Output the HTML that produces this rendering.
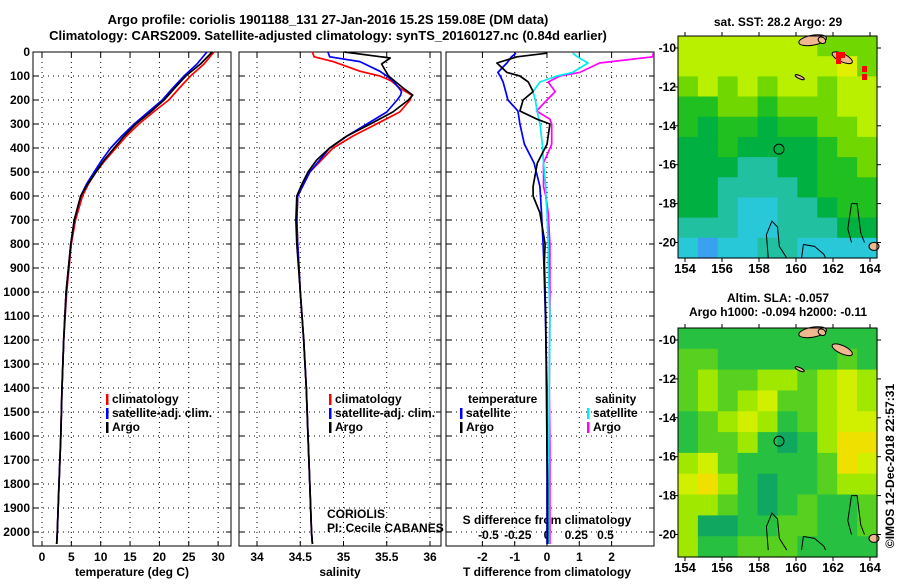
<!DOCTYPE html>
<html><head><meta charset="utf-8"><style>
body{margin:0;background:#fff}
svg text{font-family:"Liberation Sans",sans-serif;font-weight:bold;fill:#000}
</style></head><body>
<svg id="c" width="900" height="580" viewBox="0 0 900 580" xmlns="http://www.w3.org/2000/svg">
<rect width="900" height="580" fill="#fff"/>
<text x="328" y="24" font-size="13" text-anchor="middle">Argo profile: coriolis 1901188_131 27-Jan-2016 15.2S 159.08E (DM data)</text>
<text x="328" y="40" font-size="13" text-anchor="middle">Climatology: CARS2009. Satellite-adjusted climatology: synTS_20160127.nc (0.84d earlier)</text>
<g id="g"></g>
</svg>
<script>
// ---- data ----
const tDepth = [0,50,100,150,200,250,300,350,400,450,500,550,600,700,800,1000,1200,1400,1600,1800,2000,2050];
const tArgo  = [29.0,27.0,24.5,22.6,20.8,18.5,16.0,14.0,12.3,10.6,9.2,7.8,6.6,5.5,4.9,4.1,3.7,3.4,3.2,2.9,2.6,2.5];
const tClim  = [29.3,27.6,25.3,23.4,21.6,19.0,16.5,14.4,12.6,10.8,9.2,7.9,6.9,5.7,5.0,4.2,3.7,3.4,3.2,2.9,2.6,2.5];
const tSat   = [28.1,26.4,24.2,22.3,20.5,18.1,15.7,13.6,11.7,10.2,8.9,7.6,6.6,5.5,4.9,4.1,3.7,3.4,3.2,2.9,2.6,2.5];
const sArgoDepth = [0,25,50,100,150,180,200,250,300,350,400,450,500,550,600,700,800,1000,1200,1400,1600,1800,2000,2050];
const sArgo = [35.01,35.54,35.44,35.52,35.69,35.80,35.75,35.57,35.31,35.04,34.84,34.69,34.59,34.52,34.46,34.45,34.46,34.50,34.54,34.57,34.59,34.61,34.63,34.64];
const sDepth = [0,20,40,80,100,120,150,165,180,200,250,300,350,400,500,600,700,800,1000,1200,1400,1600,1800,2000,2050];
const sClim = [34.64,34.66,34.88,35.19,35.42,35.55,35.65,35.72,35.79,35.77,35.65,35.38,35.11,34.88,34.61,34.47,34.46,34.47,34.50,34.54,34.57,34.59,34.61,34.63,34.64];
const sSat  = [34.82,34.84,35.19,35.42,35.50,35.57,35.64,35.67,35.66,35.62,35.50,35.27,35.04,34.84,34.61,34.47,34.46,34.47,34.50,34.54,34.57,34.59,34.61,34.63,34.64];
const dDepth = [5,20,46,85,100,125,165,200,246,280,300,384,463,560,600,670,800,875,1100,1400,1650,1800,2050];
const dtArgo = [0,-0.93,-1.55,-1.24,-0.84,-0.58,-0.43,-0.74,-0.84,-0.31,0.09,0,-0.3,-0.43,-0.43,-0.22,-0.06,-0.08,-0.04,-0.02,0,0.02,0.02];
const dtSat  = [-0.96,-1.1,-1.24,-1.52,-1.45,-1.36,-1.28,-1.21,-0.9,-0.86,-0.84,-0.7,-0.4,-0.22,-0.2,-0.17,-0.12,-0.1,-0.05,0,0,0,0];
const dsSat  = [0.22,0.26,0.35,0.22,0.085,-0.06,-0.12,-0.1,-0.085,-0.07,-0.06,-0.04,-0.03,-0.01,-0.01,0,0.01,0.01,0.025,0.02,0.015,0.015,0.015];
const dsArgo = [0.92,0.92,0.45,0.28,0.11,0.01,0.07,0,-0.09,0.025,0.04,0.04,-0.03,-0.03,-0.01,0.01,0.025,0.025,0.025,0.02,0.025,0.025,0.025];
const depthTicks = [0,100,200,300,400,500,600,700,800,900,1000,1100,1200,1300,1400,1500,1600,1700,1800,1900,2000];
const tTicks = [0,5,10,15,20,25,30];
const sTicks = [34,34.5,35,35.5,36];
const dtTicks = [-2,-1,0,1,2];
const dsTicks = [-0.5,-0.25,0,0.25,0.5];
const latTicks = [-10,-12,-14,-16,-18,-20];
const lonTicks = [154,156,158,160,162,164];
const sstGrid = ["gggggggfff","gggggggghf","fgfgfggfgg","eeffefffgg","edeedeeffg","ddeddddeff","dddccddeef","ddccccdeee","ddcbbccdee","cccbbcccdd","babbccbbbb"];
const slaGrid = ["1111111111","2211111121","2322332343","2323422343","1234312344","1223101355","3421111254","4531011233","3321012112","3001122112","3112221111"];
const sstColors = {a:"#3aa0f0",b:"#28c8d8",c:"#20c0a0",d:"#00b040",e:"#20c020",f:"#70d800",g:"#b8f000",h:"#e0f000"};
const slaColors = ["#10a860","#28c040","#58d020","#a0e800","#d0f000","#f0e000"];

// ---- helpers ----
const NS="http://www.w3.org/2000/svg", G=document.getElementById('g');
function mk(tag,at,parent){const e=document.createElementNS(NS,tag);for(const k in at)e.setAttribute(k,at[k]);(parent||G).appendChild(e);return e;}
function txt(s,x,y,at){const e=mk('text',Object.assign({x:x,y:y,'font-size':12},at||{}));e.textContent=s;return e;}
const Y=d=>52+d*0.24;
const PB=546;
const xT=v=>42+v*5.87, xS=v=>257+(v-34)*86.5, xDT=v=>547+v*32.3, xDS=v=>547+v*117;
const panels=[[33,231],[239,441],[446,654]];

panels.forEach((p,i)=>{
  const r=mk('rect',{x:p[0],y:52,width:p[1]-p[0],height:PB-52,fill:'none',stroke:'#000','stroke-width':1});
  
  
  depthTicks.forEach(d=>{
    if(d>0) mk('line',{x1:p[0],x2:p[1],y1:Y(d),y2:Y(d),stroke:'#000','stroke-dasharray':'1,4','stroke-width':1});
    mk('line',{x1:p[0],x2:p[0]+5,y1:Y(d),y2:Y(d),stroke:'#000'});
    mk('line',{x1:p[1]-5,x2:p[1],y1:Y(d),y2:Y(d),stroke:'#000'});
  });
});
depthTicks.forEach(d=>{const t=txt(String(d),30,Y(d)+4,{'text-anchor':'end'});
  
  });
function xaxis(ticks,fx,p,ly){
  ticks.forEach(v=>{const x=fx(v);
    mk('line',{x1:x,x2:x,y1:52,y2:PB,stroke:'#000','stroke-dasharray':'1,4'});
    mk('line',{x1:x,x2:x,y1:PB-5,y2:PB,stroke:'#000'});
    mk('line',{x1:x,x2:x,y1:52,y2:57,stroke:'#000'});
    const t=txt(String(v),x,ly,{'text-anchor':'middle'});
    
    
  });
}
xaxis(tTicks,xT,panels[0],561);
xaxis(sTicks,xS,panels[1],561);
xaxis(dtTicks,xDT,panels[2],561);
dsTicks.forEach(v=>{const t=txt(String(v),xDS(v),539,{'text-anchor':'middle'});
  
  });
[['temperature (deg C)',132,'x-axis-title-temperature'],['salinity',340,'x-axis-title-salinity'],['T difference from climatology',547,'x-axis-title-t-diff']].forEach(a=>{
  const t=txt(a[0],a[1],576,{'text-anchor':'middle'});
  
  });
{const t=txt('S difference from climatology',547,524,{'text-anchor':'middle'});
 
 }

function line(ds,vs,fx,col,name,clip){
  const pts=ds.map((d,i)=>{let x=fx(vs[i]);if(clip)x=Math.max(clip[0],Math.min(clip[1],x));return x.toFixed(1)+','+Y(d).toFixed(1);}).join(' ');
  const e=mk('polyline',{points:pts,fill:'none',stroke:col,'stroke-width':1.7,'stroke-linejoin':'round'});
  
  
}
line(tDepth,tClim,xT,'#f00','temp-climatology-line');
line(tDepth,tSat,xT,'#00f','temp-satellite-line');
line(tDepth,tArgo,xT,'#000','temp-argo-line');
line(sDepth,sClim,xS,'#f00','sal-climatology-line');
line(sDepth,sSat,xS,'#00f','sal-satellite-line');
line(sArgoDepth,sArgo,xS,'#000','sal-argo-line');
const cl=[447,653];
line(dDepth,dsArgo,xDS,'#f0f','s-diff-argo-line',cl);
line(dDepth,dsSat,xDS,'#0ee','s-diff-satellite-line',cl);
line(dDepth,dtSat,xDT,'#00f','t-diff-satellite-line',cl);
line(dDepth,dtArgo,xDT,'#000','t-diff-argo-line',cl);

function legend(x,y,col,label,name){
  mk('rect',{x:x,y:y-9,width:2.5,height:11,fill:col});
  const t=txt(label,x+6,y);
  
  
}
legend(106,403,'#f00','climatology','legend-climatology');
legend(106,417,'#00f','satellite-adj. clim.','legend-satellite-adj');
legend(106,431,'#000','Argo','legend-argo');
legend(329,403,'#f00','climatology','legend-climatology-2');
legend(329,417,'#00f','satellite-adj. clim.','legend-satellite-adj-2');
legend(329,431,'#000','Argo','legend-argo-2');
{const t=txt('temperature',468,403);}
{const t=txt('salinity',595,403);}
legend(460,417,'#00f','satellite','legend-t-satellite');
legend(460,431,'#000','Argo','legend-t-argo');
legend(587,417,'#0ee','satellite','legend-s-satellite');
legend(587,431,'#f0f','Argo','legend-s-argo');
{const t=txt('CORIOLIS',327,518,{'font-weight':'normal'});}
{const t=txt('PI: Cecile CABANES',327,532,{'font-weight':'normal'});}

// ---- maps ----
function map(top,bot,grid,colfn,name){
  const L=678,R=877;
  const lx=v=>685+(v-154)*18.5;
  const latTop = top===36?48:340, ly=v=>latTop+(-10-v)*19.45;
  const rows=grid.length, cols=grid[0].length, cw=(R-L)/cols, ch=(bot-top)/rows;
  const g=mk('g',{});
  
  
  grid.forEach((r,i)=>{for(let j=0;j<cols;j++){
    mk('rect',{x:(L+j*cw).toFixed(1),y:(top+i*ch).toFixed(1),width:(cw+0.6).toFixed(1),height:(ch+0.6).toFixed(1),fill:colfn(r[j])},g);}});
  [[160.9,-9.6,14,5,-10],[162.5,-10.5,11,4,25],[161.4,-9.6,4,3,30],[160.2,-11.5,5,1.5,25]].forEach(s=>{
    mk('ellipse',{cx:lx(s[0]),cy:ly(s[1]),rx:s[2],ry:s[3],fill:'#f0b890',stroke:'#000','stroke-width':1,transform:`rotate(${s[4]} ${lx(s[0])} ${ly(s[1])})`},g);});
  mk('ellipse',{cx:R-3,cy:ly(-20.2),rx:5,ry:4,fill:'#f0b890',stroke:'#000'},g);
  const cp=[[[158.5,-20.8],[158.4,-19.6],[158.7,-18.9],[159.0,-19.2],[159.1,-20.2],[159.5,-20.8]],
            [[160.3,-20.8],[160.4,-20.1],[161.0,-20.2],[161.5,-20.6],[161.6,-20.8]],
            [[163.0,-20.0],[162.8,-19.3],[163.0,-18.0],[163.3,-18.0],[163.5,-19.5],[163.7,-20.0]]];
  cp.forEach(c=>mk('polyline',{points:c.map(p=>lx(p[0])+','+ly(p[1])).join(' '),fill:'none',stroke:'#000','stroke-width':1},g));
  mk('circle',{cx:lx(159.08),cy:ly(-15.2),r:5,fill:'none',stroke:'#000','stroke-width':1},g);
  mk('rect',{x:L,y:top,width:R-L,height:bot-top,fill:'none',stroke:'#000'},g);
  latTicks.forEach(v=>{mk('line',{x1:L-4,x2:L,y1:ly(v),y2:ly(v),stroke:'#000'});
    mk('line',{x1:R,x2:R+4,y1:ly(v),y2:ly(v),stroke:'#000'});
    const t=txt(String(v),L-2,ly(v)+4,{'text-anchor':'end'});
    
    });
  lonTicks.forEach(v=>{mk('line',{x1:lx(v),x2:lx(v),y1:top-4,y2:top,stroke:'#000'});
    mk('line',{x1:lx(v),x2:lx(v),y1:bot,y2:bot+4,stroke:'#000'});
    const t=txt(String(v),lx(v),bot+15,{'text-anchor':'middle','font-size':13});
    
    });
}
map(36,258,sstGrid,c=>sstColors[c],'sst-map');
map(328,557,slaGrid,c=>slaColors[+c],'sla-map');
[[836,52],[840,52],[836,58],[862,66],[862,74]].forEach(p=>mk('rect',{x:p[0],y:p[1],width:5,height:6,fill:'#f00'}));
{const t=txt('sat. SST: 28.2 Argo: 29',778,26,{'text-anchor':'middle'});}
{const t=txt('Altim. SLA: -0.057',778,302,{'text-anchor':'middle'});}
{const t=txt('Argo h1000: -0.094 h2000: -0.11',778,316,{'text-anchor':'middle'});}
{const t=txt('©IMOS 12-Dec-2018 22:57:31',894,466,{'text-anchor':'middle','font-weight':'normal',transform:'rotate(-90 894 466)'});}
</script>
</body></html>
